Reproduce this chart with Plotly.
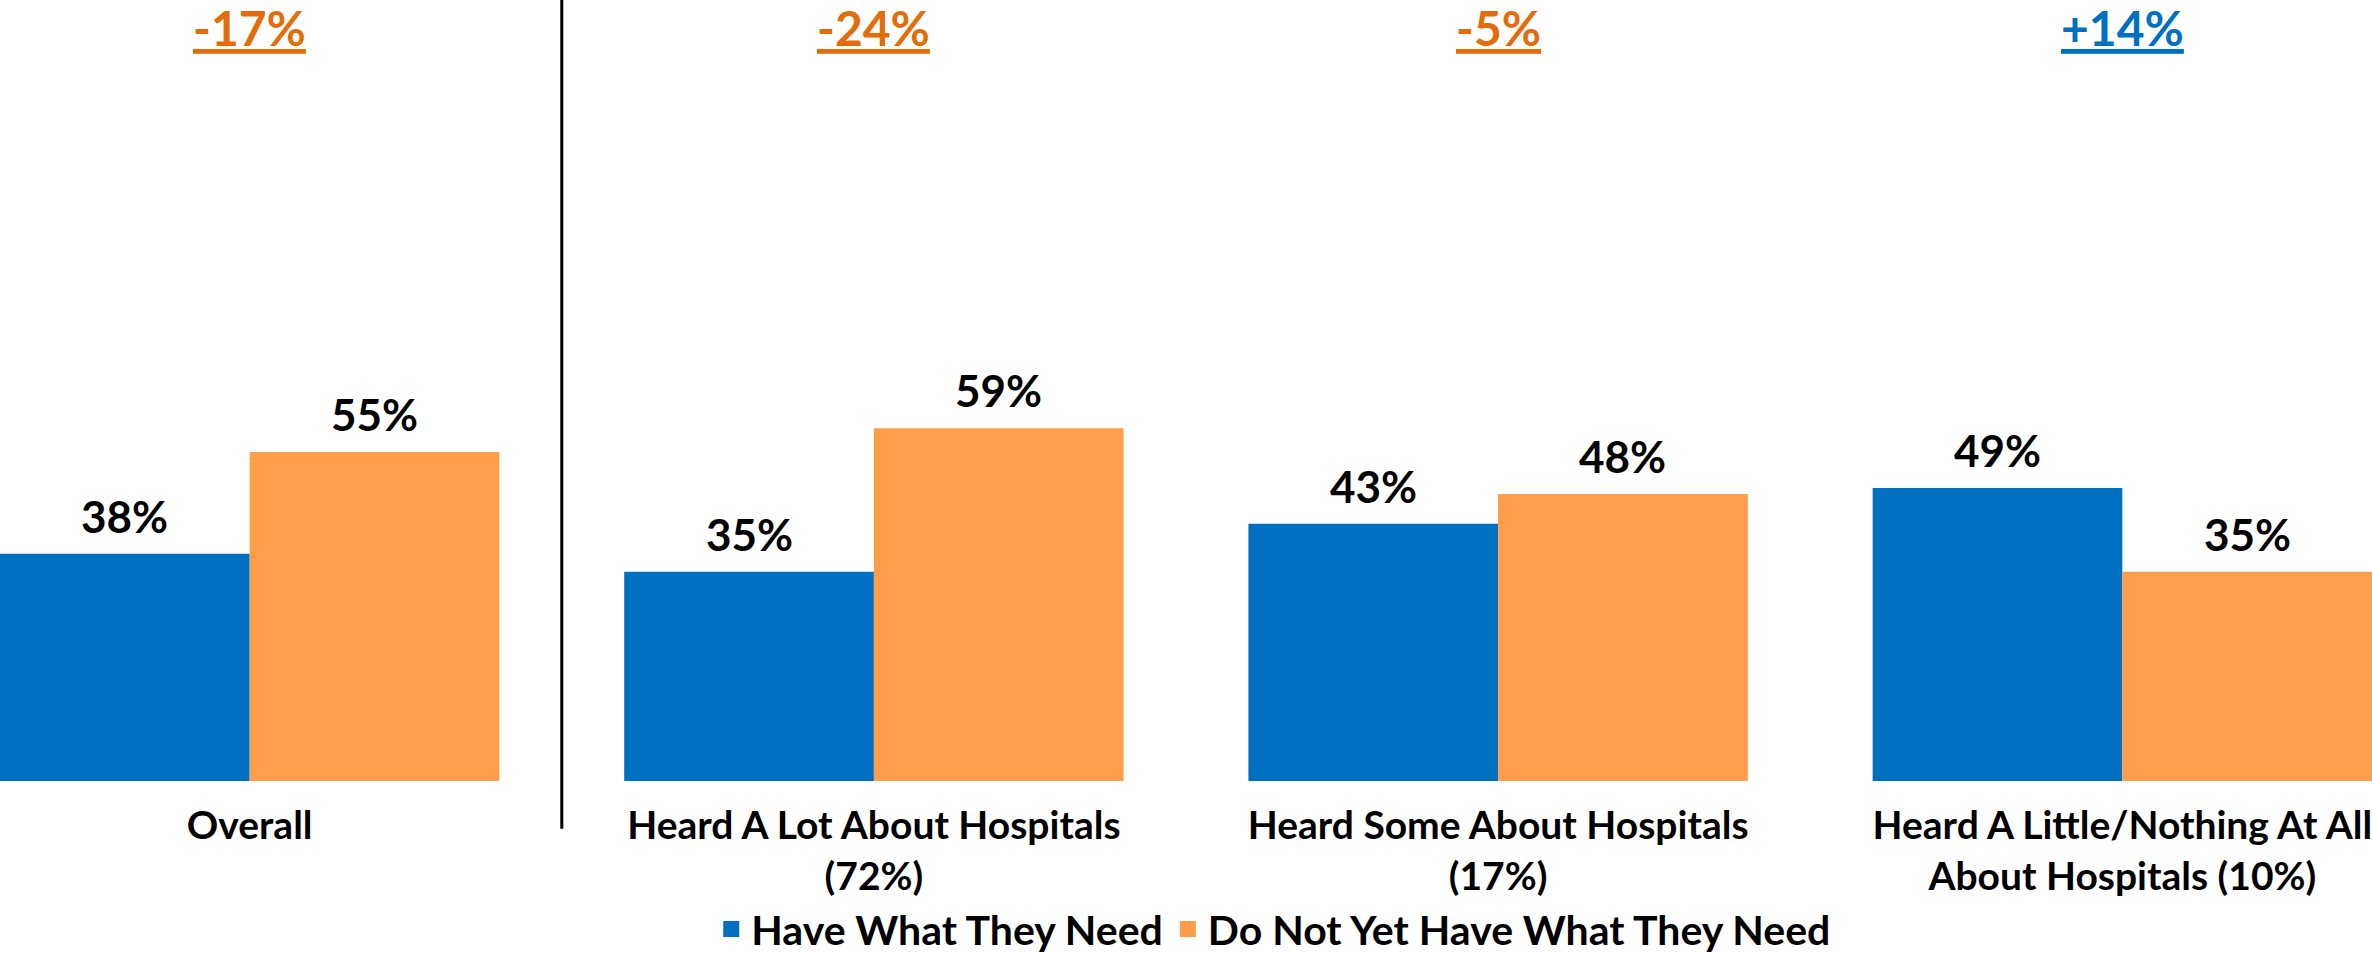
import plotly.graph_objects as go

categories = ["Overall", "Heard A Lot About Hospitals<br>(72%)", "Heard Some About Hospitals<br>(17%)",
              "Heard A Little/Nothing At All<br>About Hospitals (10%)"]
series_names = ["Have What They Need", "Do Not Yet Have What They Need"]
have_vals = [38, 35, 43, 49]
not_yet_vals = [55, 59, 48, 35]
diff_labels = ["-17%", "-24%", "-5%", "+14%"]
diff_colors = ["#E46C0A", "#E46C0A", "#E46C0A", "#0070C0"]

BLUE = "#0070C0"
ORANGE = "#FF9D4A"
FONT = "Lato"

fig = go.Figure()
fig.add_trace(go.Bar(x=categories, y=have_vals, marker=dict(color=BLUE, line=dict(width=0)),
                     name=series_names[0], showlegend=False))
fig.add_trace(go.Bar(x=categories, y=not_yet_vals, marker=dict(color=ORANGE, line=dict(width=0)),
                     name=series_names[1], showlegend=False))
# legend proxies
for nm, col in zip(series_names, [BLUE, ORANGE]):
    fig.add_trace(go.Scatter(x=[None], y=[None], mode="markers", name=nm,
                             marker=dict(symbol="square", size=22, color=col)))

annotations = []
for i, (a, b) in enumerate(zip(have_vals, not_yet_vals)):
    annotations.append(dict(x=i - 0.2, y=a, xref="x", yref="y", text=f"<b>{a}%</b>", showarrow=False,
                            yanchor="middle", yshift=38, font=dict(size=44, color="black", family=FONT)))
    annotations.append(dict(x=i + 0.2, y=b, xref="x", yref="y", text=f"<b>{b}%</b>", showarrow=False,
                            yanchor="middle", yshift=38, font=dict(size=44, color="black", family=FONT)))
for i, (t, c) in enumerate(zip(diff_labels, diff_colors)):
    annotations.append(dict(x=i, y=1, xref="x", yref="paper", text=f"<b><u>{t}</u></b>", showarrow=False,
                            yanchor="middle", yshift=-27, font=dict(size=48, color=c, family=FONT)))

fig.update_layout(
    width=2372, height=953,
    margin=dict(l=0, r=0, t=0, b=172, autoexpand=False),
    paper_bgcolor="white", plot_bgcolor="white",
    barmode="group", bargap=0.2, bargroupgap=0,
    xaxis=dict(range=[-0.4, 3.4], showgrid=False, showline=False, ticks="", zeroline=False,
               automargin=False,
               tickfont=dict(size=39, color="black", family=FONT, weight="bold"), ticklabelstandoff=18),
    yaxis=dict(range=[0, 130.6], visible=False, automargin=False),
    showlegend=True,
    legend=dict(orientation="h", x=0.537, xanchor="center", y=-0.19, yanchor="middle",
                font=dict(size=41, color="black", family=FONT, weight="bold"),
                itemsizing="trace", itemwidth=30, tracegroupgap=0),
    annotations=annotations,
    shapes=[dict(type="line", xref="x", yref="paper", x0=0.5, x1=0.5, y0=-0.061, y1=1,
                 line=dict(color="black", width=3))],
)
fig.write_html("out.html", config={"displayModeBar": False})
with open("out.html", "r", encoding="utf-8") as f:
    html = f.read()
html = html.replace("<head>", "<head><style>html,body{margin:0;padding:0;overflow:hidden}</style>", 1)
with open("out.html", "w", encoding="utf-8") as f:
    f.write(html)
